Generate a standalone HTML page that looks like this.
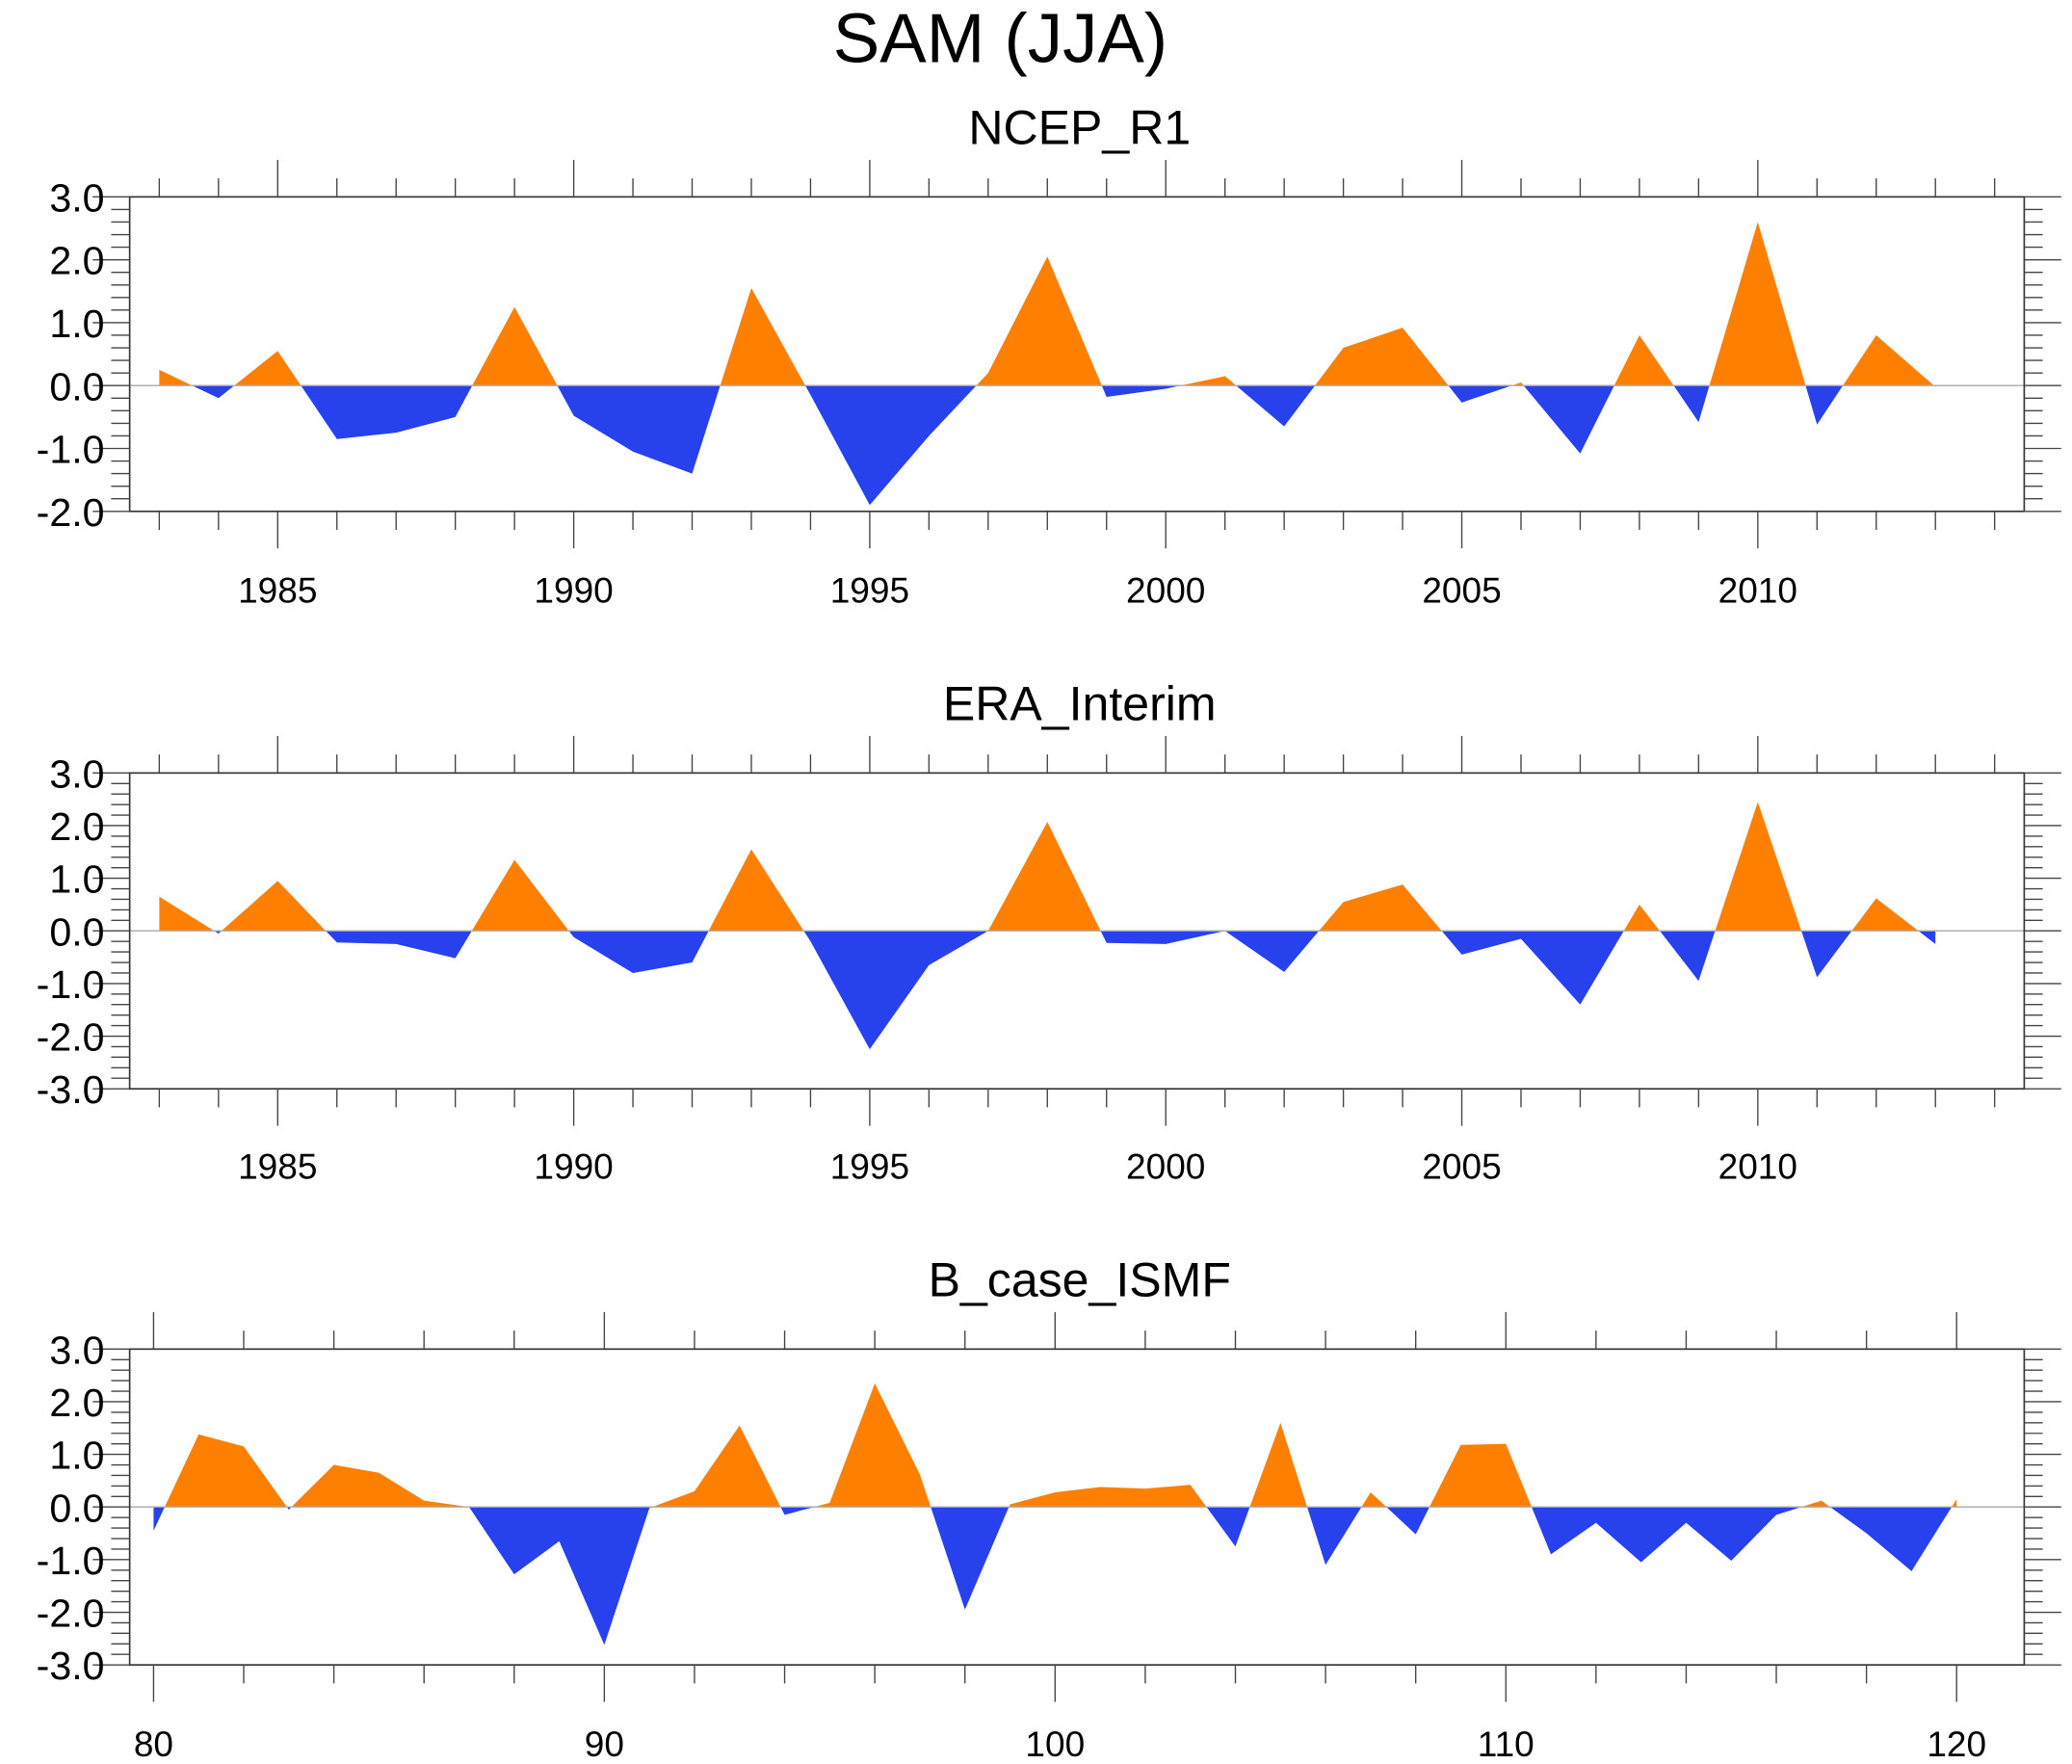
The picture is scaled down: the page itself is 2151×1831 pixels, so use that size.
<!DOCTYPE html>
<html><head><meta charset="utf-8"><style>
html,body{margin:0;padding:0;background:#fff;}
svg{display:block;}
text{font-family:"Liberation Sans",sans-serif;fill:#000;}
</style></head><body>
<svg id="chart" width="2151" height="1831" viewBox="0 0 1568 1335" xmlns="http://www.w3.org/2000/svg">
<text x="757" y="47" font-size="53" text-anchor="middle">SAM (JJA)</text>
</svg>
<script>
const ncepYears = [1983,1984,1985,1986,1987,1988,1989,1990,1991,1992,1993,1994,1995,1996,1997,1998,1999,2000,2001,2002,2003,2004,2005,2006,2007,2008,2009,2010,2011,2012,2013];
const ncepValues = [0.25,-0.2,0.55,-0.85,-0.75,-0.5,1.25,-0.48,-1.05,-1.4,1.55,-0.15,-1.9,-0.8,0.2,2.05,-0.18,-0.05,0.15,-0.65,0.6,0.92,-0.27,0.05,-1.08,0.8,-0.58,2.6,-0.62,0.8,-0.02];
const eraYears = ncepYears;
const eraValues = [0.65,-0.05,0.95,-0.22,-0.25,-0.52,1.35,-0.12,-0.8,-0.6,1.55,-0.2,-2.25,-0.65,0.0,2.07,-0.23,-0.25,0.0,-0.78,0.55,0.88,-0.45,-0.15,-1.4,0.5,-0.95,2.45,-0.88,0.62,-0.25];
const bcaseYears = [80,81,82,83,84,85,86,87,88,89,90,91,92,93,94,95,96,97,98,99,100,101,102,103,104,105,106,107,108,109,110,111,112,113,114,115,116,117,118,119,120];
const bcaseValues = [-0.45,1.38,1.15,-0.05,0.8,0.65,0.12,0.0,-1.28,-0.65,-2.62,-0.02,0.3,1.55,-0.15,0.08,2.35,0.62,-1.95,0.05,0.28,0.38,0.35,0.42,-0.75,1.6,-1.1,0.28,-0.52,1.18,1.2,-0.9,-0.3,-1.05,-0.3,-1.02,-0.15,0.12,-0.5,-1.22,0.15];
const yearLabels = [1985,1990,1995,2000,2005,2010];
const bcaseLabels = [80,90,100,110,120];
const yLabels1 = [3,2,1,0,-1,-2];
const yLabels2 = [3,2,1,0,-1,-2,-3];

const NS='http://www.w3.org/2000/svg';
const svg=document.getElementById('chart');
function mk(tag,attrs,parent){const e=document.createElementNS(NS,tag);for(const k in attrs)e.setAttribute(k,attrs[k]);(parent||svg).appendChild(e);return e;}

const L=98,R=1532;
const panels=[
 {name:'ncep',title:'NCEP_R1',ty:109,top:149,bot:387,ymin:-2,ymax:3,xmin:1982.5,xmax:2014.5,xs:ncepYears,vs:ncepValues,labels:yearLabels,yl:yLabels1,minorStep:1,majorStep:5,tickFrom:1983,tickTo:2014,labY:456},
 {name:'era',title:'ERA_Interim',ty:545,top:585,bot:824,ymin:-3,ymax:3,xmin:1982.5,xmax:2014.5,xs:eraYears,vs:eraValues,labels:yearLabels,yl:yLabels2,minorStep:1,majorStep:5,tickFrom:1983,tickTo:2014,labY:892},
 {name:'bcase',title:'B_case_ISMF',ty:981,top:1021,bot:1260,ymin:-3,ymax:3,xmin:79.47,xmax:121.5,xs:bcaseYears,vs:bcaseValues,labels:bcaseLabels,yl:yLabels2,minorStep:2,majorStep:10,tickFrom:80,tickTo:120,labY:1329}
];
panels.forEach((p,pi)=>{
 const g=mk('g',{});
 
 
 const X=v=>L+(v-p.xmin)/(p.xmax-p.xmin)*(R-L);
 const Y=v=>p.bot-(v-p.ymin)/(p.ymax-p.ymin)*(p.bot-p.top);
 const t=mk('text',{x:817,y:p.ty,'font-size':36.5,'text-anchor':'middle'},g);
 t.textContent=p.title;
 
 
 const y0=Y(0);
 const defs=mk('defs',{},g);
 const cu=mk('clipPath',{id:'cu'+pi},defs);mk('rect',{x:L,y:p.top,width:R-L,height:y0-p.top},cu);
 const cd=mk('clipPath',{id:'cd'+pi},defs);mk('rect',{x:L,y:y0,width:R-L,height:p.bot-y0},cd);
 let pts=p.xs.map((x,i)=>X(x).toFixed(2)+','+Y(p.vs[i]).toFixed(2));
 const poly=X(p.xs[0]).toFixed(2)+','+y0+' '+pts.join(' ')+' '+X(p.xs[p.xs.length-1]).toFixed(2)+','+y0;
 const a=mk('polygon',{points:poly,fill:'#FF8000','clip-path':'url(#cu'+pi+')'},g);
 
 
 const b=mk('polygon',{points:poly,fill:'#2741EC','clip-path':'url(#cd'+pi+')'},g);
 
 
 const z=mk('line',{x1:L,x2:R,y1:y0,y2:y0,stroke:'#aaa','stroke-width':1},g);
 
 
 const f=mk('rect',{x:L,y:p.top,width:R-L,height:p.bot-p.top,fill:'none',stroke:'#333','stroke-width':1.2},g);
 
 
 for(let v=p.tickFrom;v<=p.tickTo+1e-9;v+=p.minorStep){
  const x=X(v);const maj=(Math.round(v)%p.majorStep===0);
  const len=maj?28:14;
  mk('line',{x1:x,x2:x,y1:p.top,y2:p.top-len,stroke:'#444','stroke-width':1},g);
  mk('line',{x1:x,x2:x,y1:p.bot,y2:p.bot+len,stroke:'#444','stroke-width':1},g);
 }
 p.labels.forEach(v=>{
  const tl=mk('text',{x:X(v),y:p.labY,'font-size':27,'text-anchor':'middle'},g);
  tl.textContent=String(v);
  
  
 });
 for(let k=Math.round(p.ymin*5);k<=Math.round(p.ymax*5);k++){
  const y=Y(k/5);const maj=(k%5===0);const len=maj?28:14;
  mk('line',{x1:L,x2:L-len,y1:y,y2:y,stroke:'#444','stroke-width':1},g);
  mk('line',{x1:R,x2:R+len,y1:y,y2:y,stroke:'#444','stroke-width':1},g);
 }
 p.yl.forEach(v=>{
  const tl=mk('text',{x:79,y:Y(v)+11,'font-size':30,'text-anchor':'end'},g);
  tl.textContent=v.toFixed(1);
  
  
 });
});
</script>
</body></html>
